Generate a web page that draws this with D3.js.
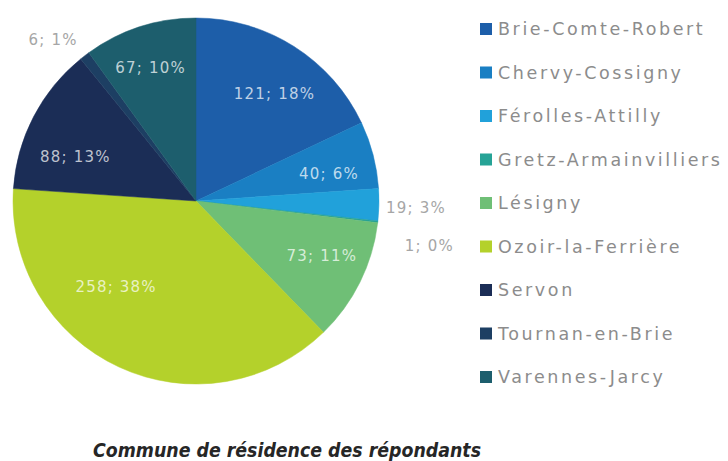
<!DOCTYPE html>
<html>
<head>
<meta charset="utf-8">
<script src="https://cdn.jsdelivr.net/npm/d3@7"></script>
<style>
  body { margin: 0; background: #fff; }
  svg { display: block; }
</style>
</head>
<body>
<div id="chart"></div>
<script>
// data
const communes = ["Brie-Comte-Robert", "Chervy-Cossigny", "Férolles-Attilly", "Gretz-Armainvilliers",
  "Lésigny", "Ozoir-la-Ferrière", "Servon", "Tournan-en-Brie", "Varennes-Jarcy"];
const counts = [121, 40, 19, 1, 73, 258, 88, 6, 67];
const percents = [18, 6, 3, 0, 11, 38, 13, 1, 10];
const titleText = "Commune de résidence des répondants";

// style
const colors = ["#1d5ea9", "#1a7fc3", "#21a1da", "#26a396", "#6fbf76", "#b4d12b", "#1b2d56", "#1d3f63", "#1d5e6d"];
const outside = [false, false, true, true, false, false, false, true, false];
// label nudges from the centroid, px
const labelNudge = [[10, 2], [9, 6], [92, 5], [106, 31], [11, -1], [-26, -30], [-7, 15], [-65, -59], [-6, -11]];

const WIDTH = 728, HEIGHT = 461;
const cx = 196, cy = 201, R = 183;

const svg = d3.select("#chart").append("svg")
  .attr("width", WIDTH)
  .attr("height", HEIGHT);

const pie = d3.pie().sort(null).value(d => d.count);
const rows = communes.map((c, i) => ({ name: c, count: counts[i], pct: percents[i], i: i }));
const arcs = pie(rows);

const arc = d3.arc().innerRadius(0).outerRadius(R);
const labelArc = d3.arc().innerRadius(R * 0.7).outerRadius(R * 0.7);

const g = svg.append("g").attr("transform", `translate(${cx},${cy})`);

g.selectAll("path.slice")
  .data(arcs)
  .join("path")
  .attr("class", "slice")
  .attr("d", arc)
  .attr("fill", d => colors[d.data.i])
  .attr("stroke", d => colors[d.data.i])
  .attr("stroke-width", 0.5);

g.selectAll("text.lbl")
  .data(arcs)
  .join("text")
  .attr("class", "lbl")
  .attr("x", d => labelArc.centroid(d)[0] + labelNudge[d.data.i][0])
  .attr("y", d => labelArc.centroid(d)[1] + labelNudge[d.data.i][1])
  .attr("text-anchor", "middle")
  .attr("dominant-baseline", "middle")
  .attr("font-family", "DejaVu Sans")
  .attr("font-size", "15px")
  .attr("letter-spacing", "1.2px")
  .style("fill", d => outside[d.data.i] ? "#a6a6a6" : "rgba(255,255,255,0.72)")
  .text(d => `${d.data.count}; ${d.data.pct}%`);

// legend
const legendY = d3.scalePoint().domain(communes).range([29, 377]);
const legend = svg.append("g");

legend.selectAll("rect")
  .data(communes)
  .join("rect")
  .attr("x", 480)
  .attr("y", d => legendY(d) - 6)
  .attr("width", 12)
  .attr("height", 12)
  .attr("fill", (d, i) => colors[i]);

legend.selectAll("text")
  .data(communes)
  .join("text")
  .attr("x", 498)
  .attr("y", d => legendY(d) + 1)
  .attr("dominant-baseline", "middle")
  .attr("font-family", "DejaVu Sans")
  .attr("font-size", "17.5px")
  .attr("letter-spacing", "2.6px")
  .style("fill", "#8c8c8c")
  .text(d => d);

svg.append("text")
  .text(titleText)
  .attr("x", 287)
  .attr("y", 457)
  .attr("text-anchor", "middle")
  .attr("font-family", "DejaVu Sans")
  .attr("font-weight", "bold")
  .attr("font-style", "italic")
  .attr("font-size", "19px")
  .attr("textLength", 388)
  .attr("lengthAdjust", "spacingAndGlyphs")
  .style("fill", "#262626");
</script>
</body>
</html>
